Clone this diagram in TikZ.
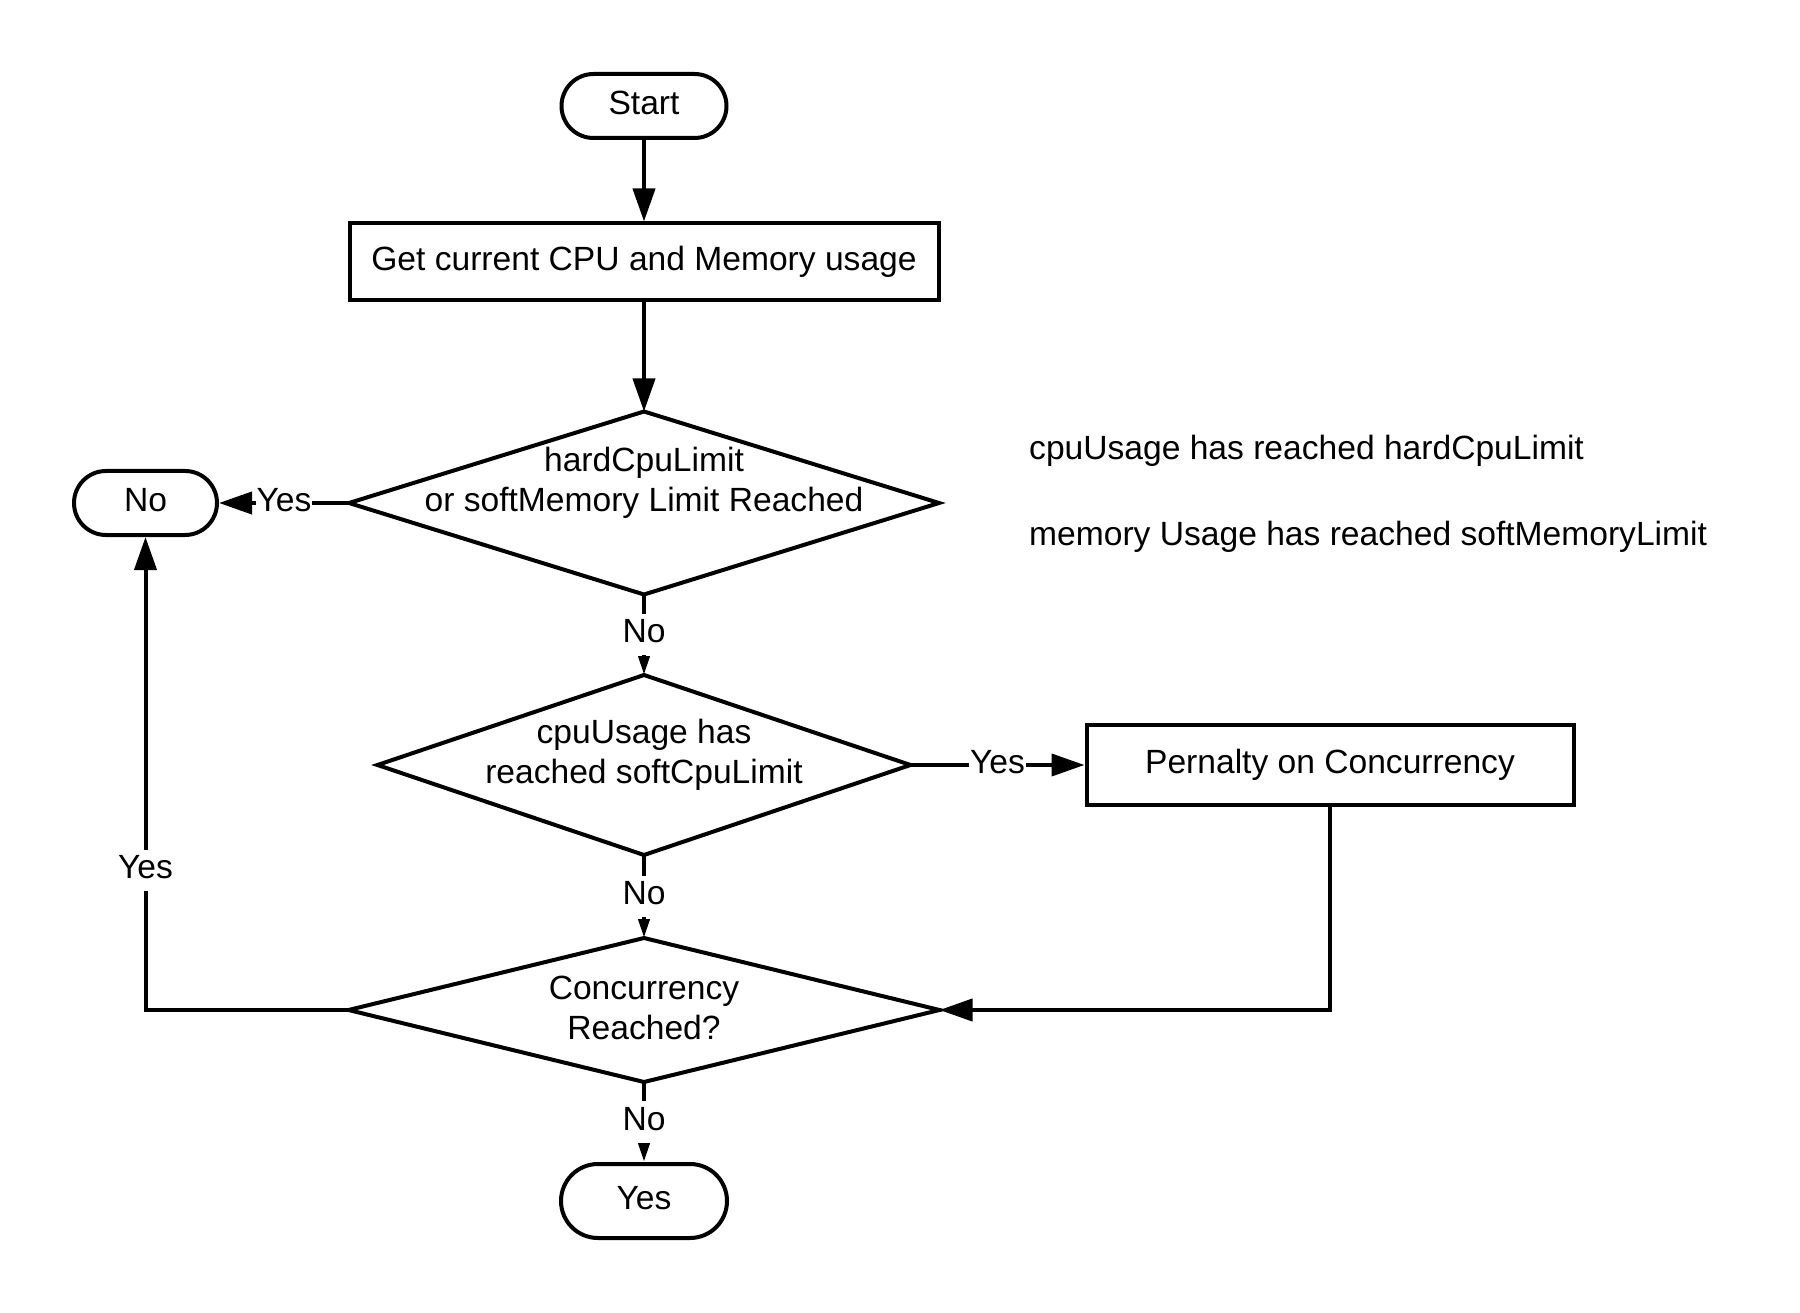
\documentclass[tikz,border=0pt]{standalone}
\usepackage{fontspec}
\setmainfont{Liberation Sans}
\usetikzlibrary{shapes.geometric,arrows.meta}
\begin{document}
\begin{tikzpicture}[x=1pt,y=-1pt,
  every node/.style={font=\fontsize{33.6}{40}\selectfont},
  ln/.style={line width=4pt},
  term/.style={draw, line width=4pt, rectangle, inner sep=0pt, text depth=7pt},
  proc/.style={draw, line width=4pt, rectangle, inner sep=0pt},
  dia/.style={draw, line width=4pt, diamond, inner sep=0pt, outer sep=0pt},
  txt/.style={align=center, inner sep=0pt},
  note/.style={anchor=west, inner sep=0pt},
  lab/.style={fill=white, inner xsep=1pt, inner ysep=5.5pt, text depth=7pt},
  big/.style={-{Triangle[length=33pt,width=22pt]}},
  small/.style={-{Triangle[length=19pt,width=11pt]}},
]
\useasboundingbox[fill=white] (0,0) rectangle (1800,1313);

% nodes
\node[term, minimum width=165pt, minimum height=64pt, rounded corners=32pt] (start) at (644,106) {Start};
\node[proc, minimum width=589pt, minimum height=77pt] (get) at (644,262) {Get current CPU and Memory usage};
\node[dia, minimum width=590pt, minimum height=183pt] (d1) at (644,503) {};
\node[txt] (d1t) at ([yshift=20pt]d1.center) {hardCpuLimit\\or softMemory Limit Reached};
\node[term, minimum width=143pt, minimum height=64pt, rounded corners=32pt] (noT) at (145.5,503) {No};
\node[dia, minimum width=533pt, minimum height=180pt] (d2) at (644,765) {};
\node[txt] (d2t) at ([yshift=10pt]d2.center) {cpuUsage has\\reached softCpuLimit};
\node[proc, minimum width=487pt, minimum height=80pt] (pen) at (1330,765) {Pernalty on Concurrency};
\node[dia, minimum width=591pt, minimum height=144pt] (d3) at (644,1010) {};
\node[txt] (d3t) at ([yshift=2pt]d3.center) {Concurrency\\Reached?};
\node[term, minimum width=166pt, minimum height=74pt, rounded corners=37pt] (yesT) at (644,1201) {Yes};

\node[note] (n1) at (1029,451) {cpuUsage has reached hardCpuLimit};
\node[note] (n2) at (1029,537) {memory Usage has reached softMemoryLimit};

% connectors
\draw[ln, big] (start.south) -- (get.north);
\draw[ln, big] (get.south) -- (d1.north);
\draw[ln, big] (d1.west) -- node[lab]{Yes} (noT.east);
\draw[ln, small] (d1.south) -- node[lab]{No} (d2.north);
\draw[ln, big] (d2.east) -- node[lab]{Yes} (pen.west);
\draw[ln, small] (d2.south) -- node[lab]{No} (d3.north);
\draw[ln, big] (pen.south) |- (d3.east);
\draw[ln, big] (d3.west) -| node[lab, pos=0.647]{Yes} (noT.south);
\draw[ln, small] (d3.south) -- node[lab]{No} (yesT.north);
\end{tikzpicture}
\end{document}
